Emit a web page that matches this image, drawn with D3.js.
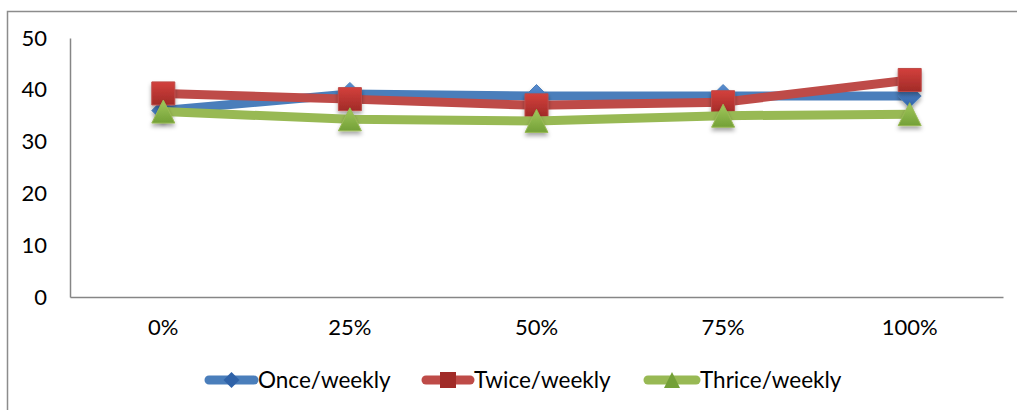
<!DOCTYPE html>
<html>
<head>
<meta charset="utf-8">
<script src="https://cdn.jsdelivr.net/npm/d3@7"></script>
<style>
  html, body { margin: 0; padding: 0; background: #fff; }
  svg { display: block; }
  text { font-family: Lato, "Open Sans", sans-serif; fill: #000; }
</style>
</head>
<body>
<svg id="chart" width="1017" height="410"></svg>
<script>
// Categories and series
const categories = ["0%", "25%", "50%", "75%", "100%"];
const onceWeekly = [36.0, 39.2, 38.8, 38.8, 38.8];
const twiceWeekly = [39.3, 38.2, 37.0, 37.6, 41.9];
const thriceWeekly = [35.8, 34.3, 34.0, 35.0, 35.3];
const yTicks = [0, 10, 20, 30, 40, 50];
const seriesNames = ["Once/weekly", "Twice/weekly", "Thrice/weekly"];

const series = [
  { name: seriesNames[0], values: onceWeekly, line: "#4A7EBB", top: "#5A8ED0", bottom: "#2F62A8", shape: "diamond" },
  { name: seriesNames[1], values: twiceWeekly, line: "#BE4B48", top: "#D3403C", bottom: "#A12B28", shape: "square" },
  { name: seriesNames[2], values: thriceWeekly, line: "#98B954", top: "#A2C85C", bottom: "#73A037", shape: "triangle" }
];

const svg = d3.select("#chart");
const defs = svg.append("defs");

// Marker shading and soft shadow
series.forEach((s, i) => {
  const g = defs.append("linearGradient").attr("id", "grad" + i)
    .attr("x1", 0).attr("y1", 0).attr("x2", 0).attr("y2", 1);
  g.append("stop").attr("offset", "0%").attr("stop-color", s.top);
  g.append("stop").attr("offset", "100%").attr("stop-color", s.bottom);
});
const shadow = defs.append("filter").attr("id", "shadow")
  .attr("x", "-50%").attr("y", "-50%").attr("width", "200%").attr("height", "200%");
shadow.append("feDropShadow").attr("dx", 0).attr("dy", 3).attr("stdDeviation", 2)
  .attr("flood-color", "#000").attr("flood-opacity", 0.35);

// Outer chart frame
svg.append("path")
  .attr("d", "M7.5,410 L7.5,11.5 L1017,11.5")
  .attr("fill", "none").attr("stroke", "#8C8C8C").attr("stroke-width", 1.5);

const plot = { left: 70, right: 1003, top: 38, bottom: 297 };

const x = d3.scaleBand().domain(categories).range([plot.left, plot.right]);
const y = d3.scaleLinear().domain([0, 50]).range([plot.bottom, plot.top]);
const cx = c => x(c) + x.bandwidth() / 2;

// Axes
const yAxis = d3.axisLeft(y).tickValues(yTicks).tickSize(0).tickPadding(23);
const gy = svg.append("g").attr("transform", `translate(${plot.left},0)`).call(yAxis);
gy.select(".domain").attr("stroke", "#868686").attr("stroke-width", 1.5);
gy.selectAll("text").attr("font-size", 22).attr("font-family", "Lato");

const xAxis = d3.axisBottom(x).tickSize(0).tickPadding(22);
const gx = svg.append("g").attr("transform", `translate(0,${plot.bottom})`).call(xAxis);
gx.select(".domain").attr("stroke", "#868686").attr("stroke-width", 1.5);
gx.selectAll("text").attr("font-size", 22).attr("font-family", "Lato");

const symbolPath = (shape, size) => {
  const h = size / 2;
  if (shape === "diamond") return `M0,${-h} L${h},0 L0,${h} L${-h},0 Z`;
  if (shape === "square") return `M${-h},${-h} L${h},${-h} L${h},${h} L${-h},${h} Z`;
  return `M0,${-h} L${h},${h} L${-h},${h} Z`;
};

const line = d3.line().x((d, i) => cx(categories[i])).y(d => y(d));

// Lines first, then markers, series in order
series.forEach((s, i) => {
  const g = svg.append("g");
  g.append("path").attr("d", line(s.values))
    .attr("fill", "none").attr("stroke", s.line).attr("stroke-width", 9)
    .attr("stroke-linejoin", "round");
  g.selectAll("path.m").data(s.values).join("path").attr("class", "m")
    .attr("transform", (d, j) => `translate(${cx(categories[j])},${y(d)})`)
    .attr("d", symbolPath(s.shape, 23))
    .attr("fill", `url(#grad${i})`)
    .attr("stroke", s.line).attr("stroke-width", 1)
    .attr("filter", "url(#shadow)");
});

// Legend
const legendItems = [
  { x: 205, tx: 258 },
  { x: 422, tx: 474 },
  { x: 644, tx: 700 }
];
const ly = 380;
series.forEach((s, i) => {
  const it = legendItems[i];
  const g = svg.append("g");
  g.append("line").attr("x1", it.x + 4).attr("x2", it.tx - 4).attr("y1", ly).attr("y2", ly)
    .attr("stroke", s.line).attr("stroke-width", 9).attr("stroke-linecap", "round");
  g.append("path").attr("transform", `translate(${(it.x + it.tx) / 2},${ly})`)
    .attr("d", symbolPath(s.shape, 16)).attr("fill", s.bottom);
  g.append("text").attr("x", it.tx).attr("y", ly).attr("dy", "0.35em")
    .attr("font-size", 22.5).text(s.name);
});
</script>
</body>
</html>
